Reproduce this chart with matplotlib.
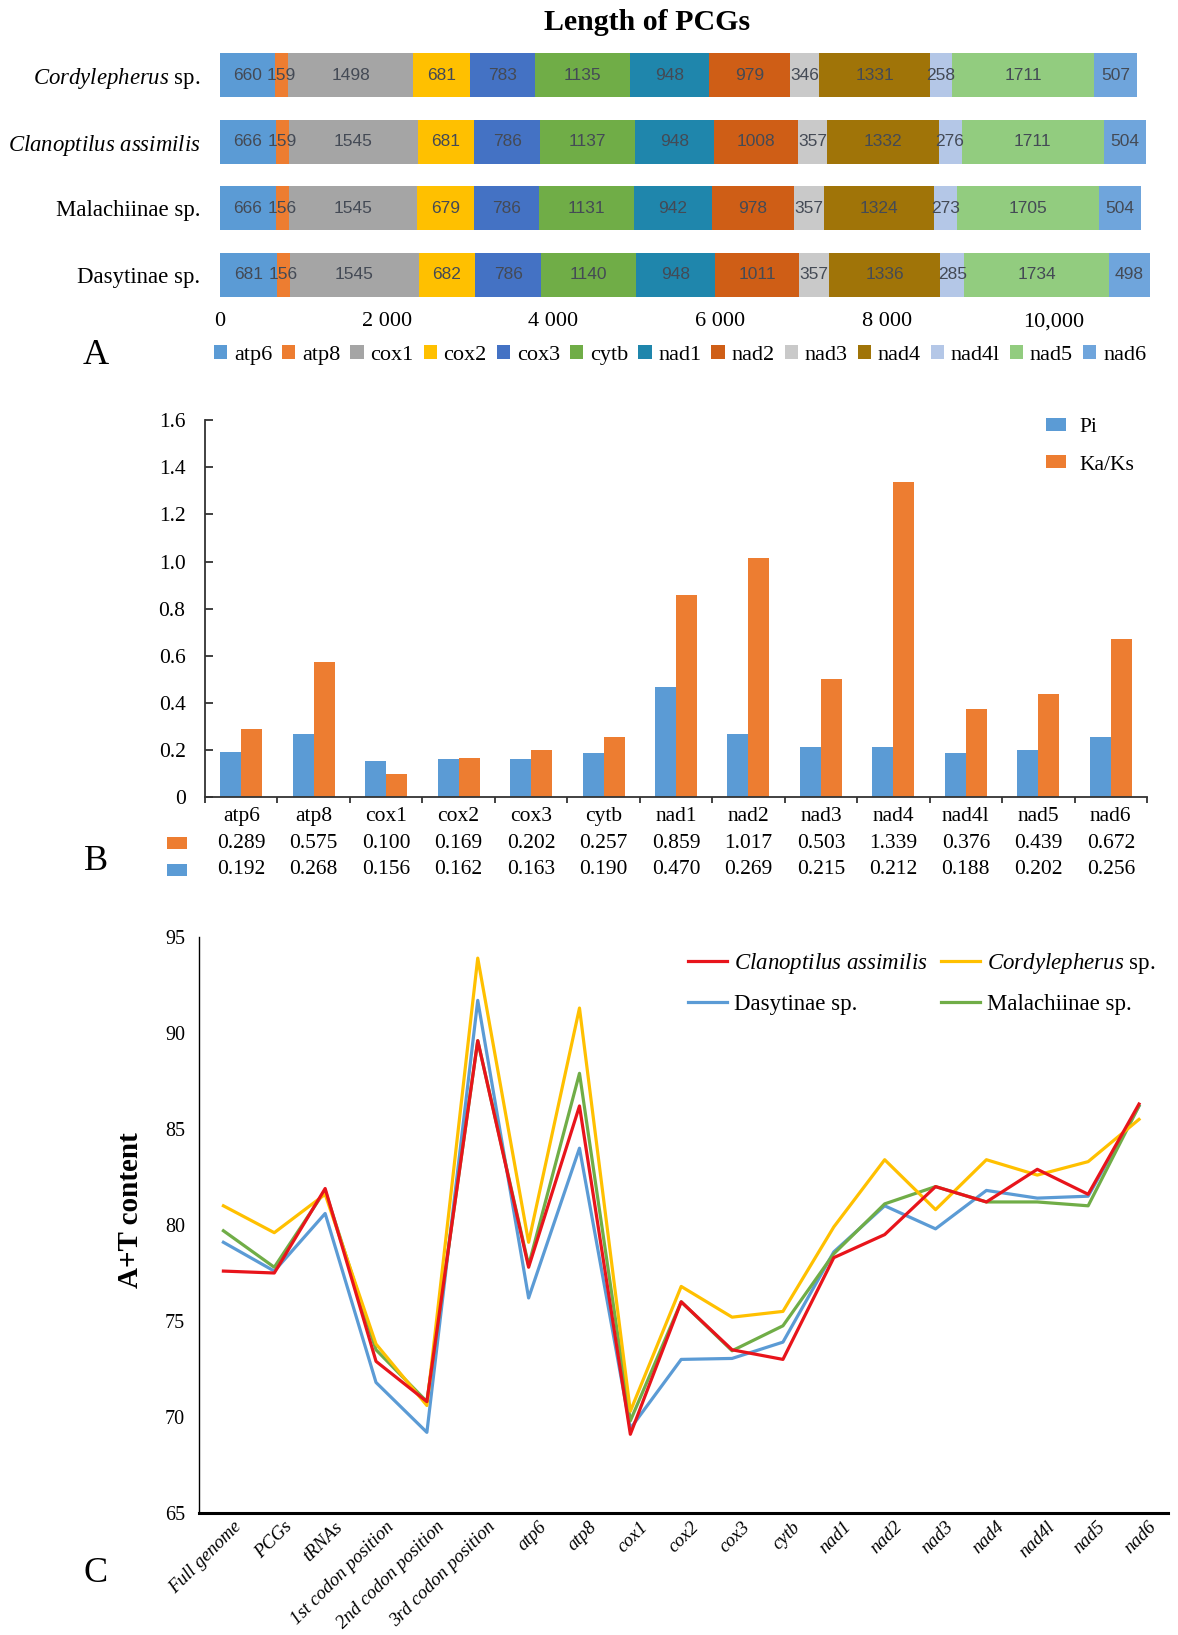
import matplotlib
matplotlib.use('Agg')
import matplotlib.pyplot as plt
import numpy as np
from matplotlib.patches import Rectangle
from matplotlib.transforms import ScaledTranslation

plt.rcParams['font.family'] = ['Liberation Serif', 'DejaVu Serif']
plt.rcParams['mathtext.fontset'] = 'custom'
plt.rcParams['mathtext.rm'] = 'Liberation Serif'
plt.rcParams['mathtext.it'] = 'Liberation Serif:italic'

# ---- panel A: gene lengths ----
species_a = [r'$\it{Cordylepherus}$ sp.', r'$\it{Clanoptilus\ assimilis}$', 'Malachiinae sp.', 'Dasytinae sp.']
genes = ['atp6', 'atp8', 'cox1', 'cox2', 'cox3', 'cytb', 'nad1', 'nad2', 'nad3', 'nad4', 'nad4l', 'nad5', 'nad6']
len_cordylepherus = [660, 159, 1498, 681, 783, 1135, 948, 979, 346, 1331, 258, 1711, 507]
len_clanoptilus = [666, 159, 1545, 681, 786, 1137, 948, 1008, 357, 1332, 276, 1711, 504]
len_malachiinae = [666, 156, 1545, 679, 786, 1131, 942, 978, 357, 1324, 273, 1705, 504]
len_dasytinae = [681, 156, 1545, 682, 786, 1140, 948, 1011, 357, 1336, 285, 1734, 498]
xticks_a = [0, 2000, 4000, 6000, 8000, 10000]
xticklabels_a = ['0', '2 000', '4 000', '6 000', '8 000', '10,000']
gene_colors = ['#5B9BD5', '#ED7D31', '#A5A5A5', '#FFC000', '#4472C4', '#70AD47', '#1F86AC',
               '#CF5E16', '#C9C9C9', '#A07408', '#B4C7E7', '#92CC7F', '#6FA5DC']

# ---- panel B: Pi and Ka/Ks ----
pi_values = [0.192, 0.268, 0.156, 0.162, 0.163, 0.190, 0.470, 0.269, 0.215, 0.212, 0.188, 0.202, 0.256]
kaks_values = [0.289, 0.575, 0.100, 0.169, 0.202, 0.257, 0.859, 1.017, 0.503, 1.339, 0.376, 0.439, 0.672]

# ---- panel C: A+T content ----
regions_c = ['Full genome', 'PCGs', 'tRNAs', '1st codon position', '2nd codon position', '3rd codon position',
             'atp6', 'atp8', 'cox1', 'cox2', 'cox3', 'cytb', 'nad1', 'nad2', 'nad3', 'nad4', 'nad4l', 'nad5', 'nad6']
at_clanoptilus = [77.6, 77.5, 81.9, 72.9, 70.8, 89.6, 77.8, 86.2, 69.1, 76.0, 73.5, 73.0, 78.3, 79.5, 82.0, 81.2, 82.9, 81.6, 86.3]
at_cordylepherus = [81.0, 79.6, 81.6, 73.8, 70.6, 93.9, 79.1, 91.3, 70.3, 76.8, 75.2, 75.5, 79.9, 83.4, 80.8, 83.4, 82.6, 83.3, 85.5]
at_dasytinae = [79.1, 77.6, 80.6, 71.8, 69.2, 91.7, 76.2, 84.0, 69.4, 73.0, 73.05, 73.9, 78.6, 81.0, 79.8, 81.8, 81.4, 81.5, 86.2]
at_malachiinae = [79.7, 77.8, 81.8, 73.5, 70.8, 89.6, 77.9, 87.9, 69.8, 76.0, 73.45, 74.75, 78.5, 81.1, 82.0, 81.2, 81.2, 81.0, 86.2]

W, H = 1178, 1635


def box(left, top, right, bottom):
    return [left / W, 1 - bottom / H, (right - left) / W, (bottom - top) / H]


fig = plt.figure(figsize=(W / 100, H / 100), dpi=100)

# ================= A =================
ax_a = fig.add_axes(box(220, 42, 1162, 308))
lengths = np.array([len_cordylepherus, len_clanoptilus, len_malachiinae, len_dasytinae])
ypos = np.arange(len(species_a))
left = np.zeros(len(species_a))
handles = []
for j, gene in enumerate(genes):
    bars = ax_a.barh(ypos, lengths[:, j], left=left, height=0.66, color=gene_colors[j], label=gene)
    handles.append(bars)
    for i in range(len(species_a)):
        ax_a.text(left[i] + lengths[i, j] / 2, ypos[i], str(lengths[i, j]), ha='center', va='center',
                  fontsize=12.5, color='#444a55', family=['Liberation Sans Narrow', 'Liberation Sans'])
    left = left + lengths[:, j]
ax_a.set_xlim(0, 11300)
ax_a.set_ylim(3.5, -0.5)
for s in ax_a.spines.values():
    s.set_visible(False)
ax_a.set_xticks(xticks_a)
ax_a.set_xticklabels(xticklabels_a, fontsize=16)
ax_a.set_yticks(ypos)
ax_a.set_yticklabels(species_a, fontsize=16.4)
ax_a.tick_params(axis='both', length=0)
ax_a.tick_params(axis='y', pad=14)
ax_a.tick_params(axis='x', pad=3)

fig.text(647 / W, 1 - 23 / H, 'Length of PCGs', fontsize=21.5, weight='bold', ha='center', va='center')
fig.legend(handles, genes, ncol=13, loc='center', bbox_to_anchor=(680 / W, 1 - 355 / H), frameon=False,
           fontsize=16, handlelength=0.6, handleheight=0.6, handletextpad=0.3, columnspacing=0.45)
fig.text(96 / W, 1 - 355 / H, 'A', fontsize=26, ha='center', va='center')

# ================= B =================
ax_b = fig.add_axes(box(205, 420, 1147, 797.5))
x = np.arange(len(genes))
ax_b.bar(x - 0.145, pi_values, width=0.29, color='#5B9BD5', label='Pi')
ax_b.bar(x + 0.145, kaks_values, width=0.29, color='#ED7D31', label='Ka/Ks')
ax_b.set_xlim(-0.5, 12.5)
ax_b.set_ylim(0, 1.6)
ax_b.spines['top'].set_visible(False)
ax_b.spines['right'].set_visible(False)
for s in ['left', 'bottom']:
    ax_b.spines[s].set_linewidth(1.3)
    ax_b.spines[s].set_color('#333333')
yt = np.arange(0, 1.61, 0.2)
ax_b.set_yticks(yt)
ax_b.set_yticklabels(['0'] + ['%.1f' % v for v in yt[1:]], fontsize=15.5)
ax_b.tick_params(axis='y', direction='in', length=6, width=1.3, color='#333333', pad=14)
ax_b.set_xticks(x)
ax_b.set_xticklabels(genes, fontsize=15.5)
ax_b.tick_params(axis='x', which='major', length=0, pad=7)
ax_b.set_xticks(np.arange(-0.5, 13, 1), minor=True)
ax_b.tick_params(axis='x', which='minor', direction='out', length=4, width=1.3, color='#333333')
tr = ax_b.get_xaxis_transform()
for i in range(len(genes)):
    ax_b.text(x[i], -0.121, '%.3f' % kaks_values[i], transform=tr, ha='center', va='center', fontsize=15.5)
    ax_b.text(x[i], -0.192, '%.3f' % pi_values[i], transform=tr, ha='center', va='center', fontsize=15.5)
fig.patches.append(Rectangle((167 / W, 1 - 849 / H), 20 / W, 12 / H, transform=fig.transFigure,
                             facecolor='#ED7D31', edgecolor='none'))
fig.patches.append(Rectangle((167 / W, 1 - 876 / H), 20 / W, 12 / H, transform=fig.transFigure,
                             facecolor='#5B9BD5', edgecolor='none'))
fig.legend(*ax_b.get_legend_handles_labels(), loc='upper left', bbox_to_anchor=(1046 / W, 1 - 418 / H),
           frameon=False, fontsize=15.5, handlelength=0.95, handleheight=0.55, handletextpad=0.6,
           labelspacing=0.85, borderpad=0, borderaxespad=0)
fig.text(96 / W, 1 - 861 / H, 'B', fontsize=26, ha='center', va='center')

# ================= C =================
ax_c = fig.add_axes(box(199, 937, 1168, 1513))
xc = np.arange(len(regions_c))
ax_c.plot(xc, at_dasytinae, color='#5B9BD5', lw=2.3, label='Dasytinae sp.')
ax_c.plot(xc, at_malachiinae, color='#70AD47', lw=2.3, label='Malachiinae sp.')
ax_c.plot(xc, at_cordylepherus, color='#FFC000', lw=2.3, label=r'$\it{Cordylepherus}$ sp.')
ax_c.plot(xc, at_clanoptilus, color='#E8141B', lw=2.3, label=r'$\it{Clanoptilus\ assimilis}$')
ax_c.set_xlim(-0.48, 18.57)
ax_c.set_ylim(65, 95)
ax_c.spines['top'].set_visible(False)
ax_c.spines['right'].set_visible(False)
ax_c.spines['left'].set_linewidth(1.0)
ax_c.spines['bottom'].set_linewidth(2.2)
ax_c.set_yticks(np.arange(65, 96, 5))
ax_c.tick_params(axis='y', length=0, pad=10, labelsize=14.5)
ax_c.set_xticks(xc)
ax_c.set_xticklabels(regions_c, fontsize=13.5, style='italic', rotation=45, ha='right', va='top',
                     rotation_mode='anchor')
ax_c.tick_params(axis='x', length=0, pad=4)
for lab in ax_c.get_xticklabels():
    lab.set_transform(lab.get_transform() + ScaledTranslation(0.09, 0, fig.dpi_scale_trans))

h, l = ax_c.get_legend_handles_labels()
order = [3, 0, 2, 1]
ax_c.legend([h[k] for k in order], [l[k] for k in order], ncol=2, loc='upper left',
            bbox_to_anchor=(688 / W, 1 - 951 / H), bbox_transform=fig.transFigure, frameon=False,
            fontsize=16.5, handlelength=1.7, handletextpad=0.3, columnspacing=0.6, labelspacing=0.8,
            borderpad=0, borderaxespad=0)
fig.text(130 / W, 1 - 1210 / H, 'A+T content', fontsize=21, weight='bold', rotation=90,
         ha='center', va='center')
fig.text(96 / W, 1 - 1573 / H, 'C', fontsize=26, ha='center', va='center')

fig.savefig('out.png', dpi=100)
